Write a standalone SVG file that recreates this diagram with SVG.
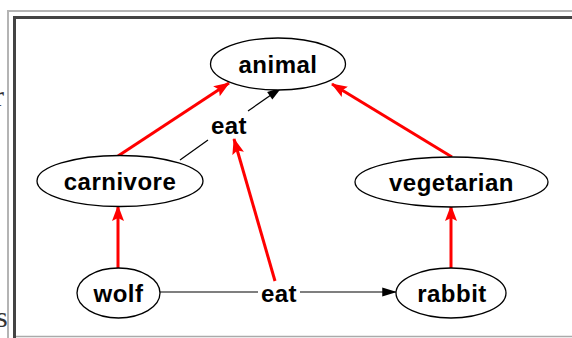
<svg xmlns="http://www.w3.org/2000/svg" width="572" height="338" viewBox="0 0 572 338">
  <defs>
    <style>
      .node ellipse { fill: #ffffff; stroke: #000000; stroke-width: 1.3; }
      .node text, .label { font-family: "Liberation Sans", Arial, sans-serif; font-weight: bold; font-size: 24px; fill: #000000; text-anchor: middle; letter-spacing: 0.5px; }
      .isa { stroke: #ff0000; stroke-width: 3; fill: none; }
      .rel { stroke: #000000; stroke-width: 1.2; fill: none; }
      .margin { font-family: "Liberation Serif", "Times New Roman", serif; font-size: 30px; fill: #333333; }
    </style>
    <marker id="redHead" viewBox="0 0 16 12" refX="15" refY="6" markerWidth="16" markerHeight="12" markerUnits="userSpaceOnUse" orient="auto">
      <path d="M0,0 L16,6 L0,12 L3,6 Z" fill="#ff0000"/>
    </marker>
    <marker id="blackHead" viewBox="0 0 16 12" refX="15" refY="6" markerWidth="16" markerHeight="11" markerUnits="userSpaceOnUse" orient="auto">
      <path d="M0,1 L16,6 L0,11 Z" fill="#000000"/>
    </marker>
  </defs>

  <rect x="0" y="0" width="572" height="338" fill="#ffffff"/>

  <!-- page text cut off at the left edge -->
  <text class="margin" x="-6" y="106">r</text>
  <text class="margin" x="-4" y="327">s</text>

  <!-- frame -->
  <g id="frame">
    <line x1="8" y1="11" x2="572" y2="11" stroke="#b4b4b4" stroke-width="2"/>
    <line x1="8" y1="10" x2="8" y2="338" stroke="#b4b4b4" stroke-width="2"/>
    <line x1="13" y1="17.5" x2="572" y2="17.5" stroke="#444444" stroke-width="3"/>
    <line x1="14.5" y1="16" x2="14.5" y2="338" stroke="#444444" stroke-width="3"/>
    <line x1="16" y1="336.5" x2="572" y2="336.5" stroke="#aaaaaa" stroke-width="1.5"/>
  </g>

  <!-- connectors -->
  <g id="connectors">
    <!-- is-a links -->
    <line class="isa" x1="118" y1="156" x2="229" y2="83" marker-end="url(#redHead)"/>
    <line class="isa" x1="452" y1="157" x2="332" y2="84" marker-end="url(#redHead)"/>
    <line class="isa" x1="118" y1="268" x2="118" y2="206" marker-end="url(#redHead)"/>
    <line class="isa" x1="451" y1="268" x2="451" y2="206" marker-end="url(#redHead)"/>
    <line class="isa" x1="275" y1="281" x2="234" y2="139" marker-end="url(#redHead)"/>
    <!-- eat relations -->
    <line class="rel" x1="180" y1="160" x2="208" y2="140"/>
    <line class="rel" x1="248" y1="111" x2="281" y2="88" marker-end="url(#blackHead)"/>
    <line class="rel" x1="160" y1="292" x2="258" y2="292"/>
    <line class="rel" x1="300" y1="292" x2="396" y2="292" marker-end="url(#blackHead)"/>
  </g>

  <!-- relation labels -->
  <text class="label" x="229" y="134">eat</text>
  <text class="label" x="279" y="302">eat</text>

  <!-- nodes -->
  <g id="animal" class="node">
    <ellipse cx="278" cy="64" rx="67.5" ry="26"/>
    <text x="278" y="73">animal</text>
  </g>
  <g id="carnivore" class="node">
    <ellipse cx="120" cy="181" rx="83" ry="25.5"/>
    <text x="120" y="190">carnivore</text>
  </g>
  <g id="vegetarian" class="node">
    <ellipse cx="451.5" cy="182" rx="96.5" ry="25"/>
    <text x="451.5" y="191">vegetarian</text>
  </g>
  <g id="wolf" class="node">
    <ellipse cx="118.5" cy="293" rx="41.5" ry="25"/>
    <text x="118.5" y="302">wolf</text>
  </g>
  <g id="rabbit" class="node">
    <ellipse cx="451" cy="293" rx="55" ry="25"/>
    <text x="452" y="302">rabbit</text>
  </g>
</svg>
